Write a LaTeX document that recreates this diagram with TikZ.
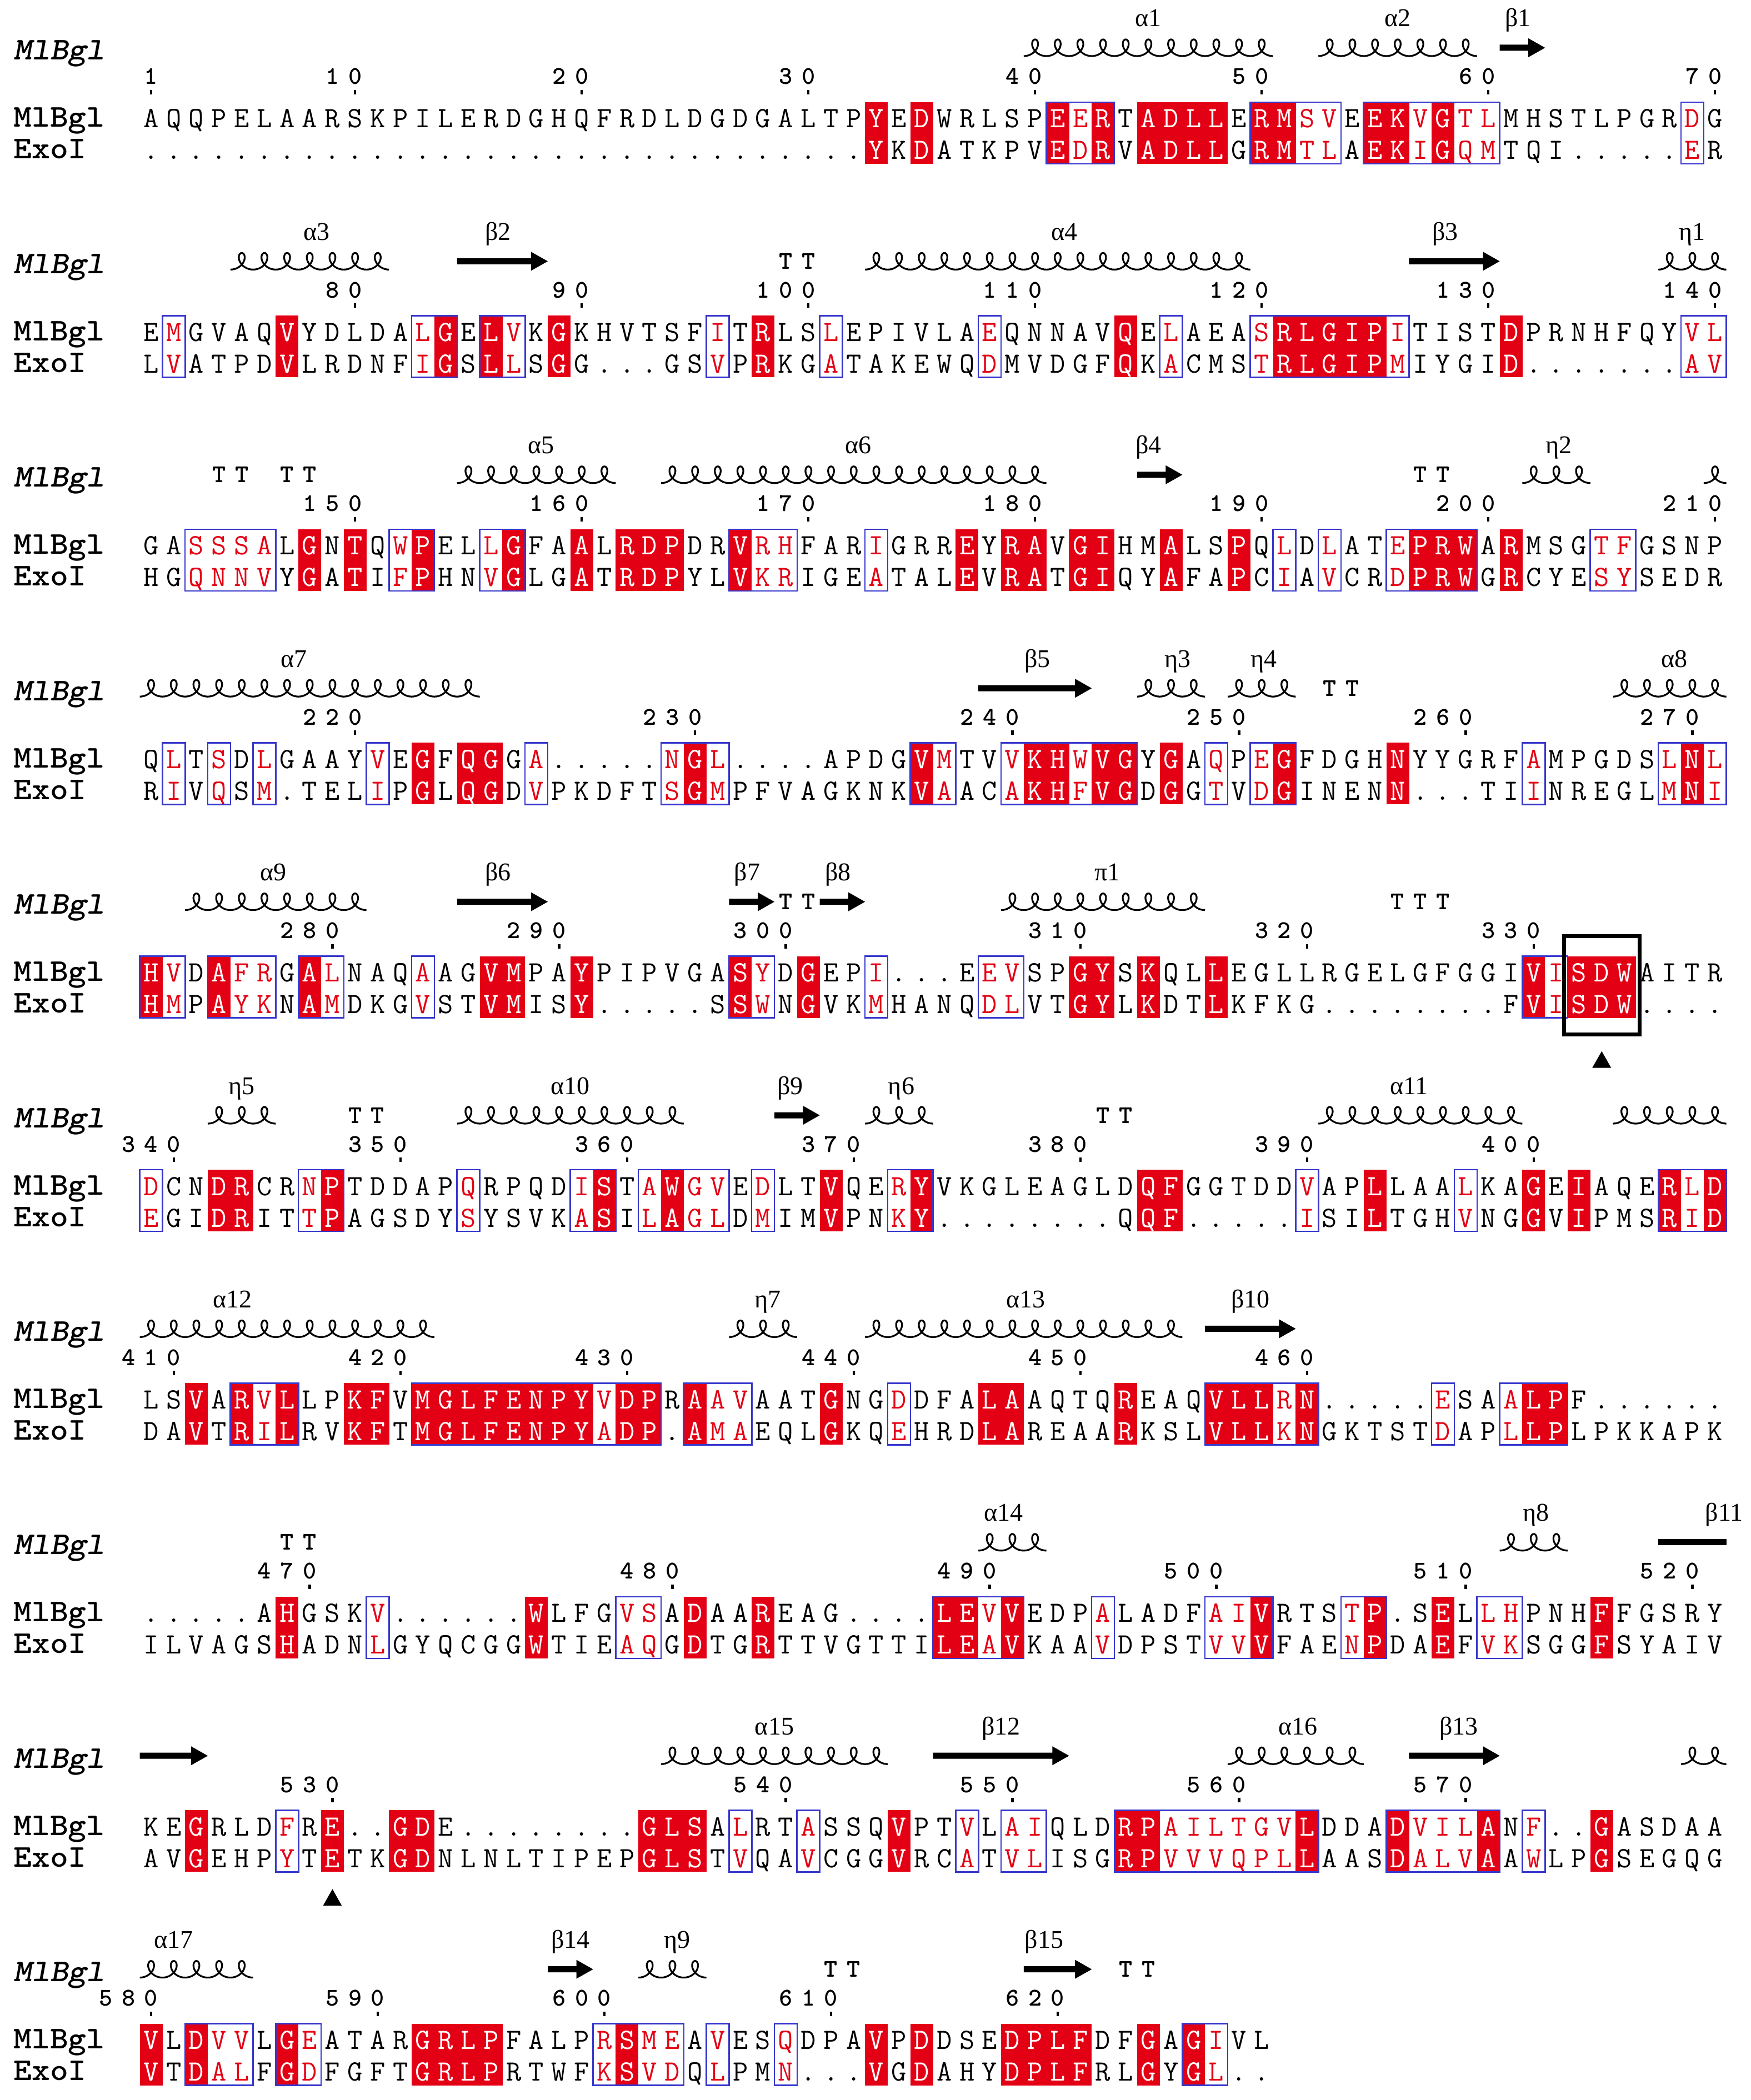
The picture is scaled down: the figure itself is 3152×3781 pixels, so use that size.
\documentclass[tikz,border=0pt]{standalone}
\usepackage{fontspec}
\usepackage{xstring}
\newfontfamily\grk{Liberation Serif}
\definecolor{idred}{RGB}{228,0,20}
\definecolor{simblue}{RGB}{55,55,205}
\newif\ifisred
\newif\ifisframed
\newif\ifprevframed
\newif\ifnextframed
\tikzset{
  seqchar/.style={anchor=base, inner sep=0pt, font=\fontsize{53}{55}\selectfont\ttfamily},
  numchar/.style={anchor=base, inner sep=0pt, font=\fontsize{46}{50}\selectfont\ttfamily\bfseries},
  rowlabel/.style={anchor=base west, inner sep=0pt, font=\fontsize{57}{60}\selectfont\ttfamily\bfseries},
  sslabel/.style={anchor=base, inner sep=0pt, font=\fontsize{46}{50}\selectfont\grk},
  helixline/.style={line width=3.2pt, line join=round},
  frameline/.style={simblue, line width=2.6pt, line cap=rect},
}
% column centre: 272 + (k-1)*40.8 ; block base: 214 + 384.4*n
\newcommand\seqblock[5]{%
  \pgfmathsetmacro\yb{214+384.4*#1}%
  \StrDel{#3}{|}[\sqa]%
  \StrDel{#4}{|}[\sqb]%
  \StrDel{#5}{|}[\sqm]%
  \edef\fullmask{.\sqm.}%
  \foreach \k in {1,...,#2}{%
    \pgfmathtruncatemacro\kk{\k+1}%
    \StrChar{\fullmask}{\kk}[\mk]%
    \pgfmathsetmacro\xc{272+(\k-1)*40.8}%
    \isredfalse
    \if R\mk\isredtrue\fi
    \if r\mk\isredtrue\fi
    \ifisred \fill[idred] (\xc-20.5,\yb-30) rectangle (\xc+20.5,\yb+81);\fi
  }%
  \foreach \k in {1,...,#2}{%
    \pgfmathtruncatemacro\kk{\k+1}%
    \pgfmathtruncatemacro\kn{\k+2}%
    \StrChar{\fullmask}{\kk}[\mk]%
    \StrChar{\fullmask}{\k}[\mkp]%
    \StrChar{\fullmask}{\kn}[\mkn]%
    \StrChar{\sqa}{\k}[\ca]%
    \StrChar{\sqb}{\k}[\cb]%
    \pgfmathsetmacro\xc{272+(\k-1)*40.8}%
    \isframedfalse \if r\mk\isframedtrue\fi \if B\mk\isframedtrue\fi
    \prevframedfalse \if r\mkp\prevframedtrue\fi \if B\mkp\prevframedtrue\fi
    \nextframedfalse \if r\mkn\nextframedtrue\fi \if B\mkn\nextframedtrue\fi
    \ifisframed
      \draw[frameline] (\xc-20.5,\yb-30) -- (\xc+20.5,\yb-30);
      \draw[frameline] (\xc-20.5,\yb+81) -- (\xc+20.5,\yb+81);
      \ifprevframed\else \draw[frameline] (\xc-20.5,\yb-30) -- (\xc-20.5,\yb+81);\fi
      \ifnextframed\else \draw[frameline] (\xc+20.5,\yb-30) -- (\xc+20.5,\yb+81);\fi
    \fi
    \def\tc{black}%
    \if R\mk\def\tc{white}\fi
    \if r\mk\def\tc{white}\fi
    \if B\mk\def\tc{idred}\fi
    \node[seqchar,text=\tc] at (\xc,\yb+16) {\ca};
    \node[seqchar,text=\tc] at (\xc,\yb+73) {\cb};
  }%
  \node[rowlabel] (lbA#1) at (24,\yb+15) {\scalebox{1.1}[1]{MlBgl}};
  \node[rowlabel] (lbB#1) at (24,\yb+72) {\scalebox{1.1}[1]{ExoI}};
  \node[rowlabel, font=\fontsize{57}{60}\selectfont\ttfamily\bfseries\slshape] (lbS#1) at (24,\yb-106) {\scalebox{1.1}[1]{MlBgl}};
}
\newcommand\numlab[3]{%
  \pgfmathsetmacro\yb{214+384.4*#1}%
  \StrLen{#3}[\nl]%
  \foreach \j in {1,...,\nl}{%
    \StrChar{#3}{\j}[\dg]%
    \pgfmathsetmacro\xc{272+(#2-\nl+\j-1)*40.8}%
    \node[numchar] at (\xc,\yb-62) {\dg};
  }%
  \pgfmathsetmacro\xt{272+(#2-1)*40.8}%
  \fill (\xt-2.2,\yb-52) rectangle (\xt+2.2,\yb-44);
}
\newcommand\sshelix[3]{%
  \pgfmathsetmacro\yh{214+384.4*#1-128}%
  \pgfmathsetmacro\xa{272+(#2-1)*40.8-20.4}%
  \pgfmathtruncatemacro\nloop{#3-#2+1}%
  \pgfmathsetmacro\tend{180+360*\nloop}%
  \pgfmathtruncatemacro\nsamp{32*\nloop+1}%
  \draw[helixline] plot[smooth, domain=180:\tend, samples=\nsamp] ({\xa+(\x-180)*0.113333-14*sin(\x)},{\yh-15*cos(\x)});
}
\newcommand\ssstrand[3]{%
  \pgfmathsetmacro\yh{214+384.4*#1-128}%
  \pgfmathsetmacro\xa{272+(#2-1)*40.8-20.4}%
  \pgfmathsetmacro\xb{272+(#3-1)*40.8+20.4}%
  \fill (\xa,\yh-5.5) -- (\xb-30,\yh-5.5) -- (\xb-30,\yh-17) -- (\xb,\yh) -- (\xb-30,\yh+17) -- (\xb-30,\yh+5.5) -- (\xa,\yh+5.5) -- cycle;
}
\newcommand\ssbar[3]{%
  \pgfmathsetmacro\yh{214+384.4*#1-128}%
  \pgfmathsetmacro\xa{272+(#2-1)*40.8-20.4}%
  \pgfmathsetmacro\xb{272+(#3-1)*40.8+20.4}%
  \fill (\xa,\yh-5.5) rectangle (\xb,\yh+5.5);
}
\newcommand\ssturn[3]{%
  \pgfmathsetmacro\yh{214+384.4*#1-128}%
  \StrLen{#3}[\nl]%
  \foreach \j in {1,...,\nl}{%
    \StrChar{#3}{\j}[\dg]%
    \pgfmathsetmacro\xc{272+(#2+\j-2)*40.8}%
    \node[numchar] at (\xc,\yh+14) {\dg};
  }%
}
\newcommand\sslab[3]{%
  \node[sslabel] at ({272+(#2-1)*40.8},{214+384.4*#1-166}) {#3};
}
\begin{document}
\begin{tikzpicture}[x=1pt,y=-1pt]
\fill[white] (0,0) rectangle (3152,3781);
\useasboundingbox (0,0) rectangle (3152,3781);

% ---------- block 1
\seqblock{0}{70}{AQQPELAARS|KPILERDGHQ|FRDLDGDGAL|TPYEDWRLSP|EERTADLLER|MSVEEKVGTL|MHSTLPGRDG}{..........|..........|..........|..YKDATKPV|EDRVADLLGR|MTLAEKIGQM|TQI.....ER}{..........|..........|..........|..R.R.....|rBr.RRRR.r|rBB.rrBrBB|........B.}
\numlab{0}{1}{1}\numlab{0}{10}{10}\numlab{0}{20}{20}\numlab{0}{30}{30}\numlab{0}{40}{40}\numlab{0}{50}{50}\numlab{0}{60}{60}\numlab{0}{70}{70}
\sshelix{0}{40}{50}\sslab{0}{45}{α1}
\sshelix{0}{53}{59}\sslab{0}{56}{α2}
\ssstrand{0}{61}{62}\sslab{0}{61.3}{β1}

% ---------- block 2
\seqblock{1}{70}{EMGVAQVYDL|DALGELVKGK|HVTSFITRLS|LEPIVLAEQN|NAVQELAEAS|RLGIPITIST|DPRNHFQYVL}{LVATPDVLRD|NFIGSLLSGG|...GSVPRKG|ATAKEWQDMV|DGFQKACMST|RLGIPMIYGI|D.......AV}{.B....R...|..Br.rB.R.|.....B.R..|B......B..|...R.B...B|rrrrrB....|R.......BB}
\numlab{1}{10}{80}\numlab{1}{20}{90}\numlab{1}{30}{100}\numlab{1}{40}{110}\numlab{1}{50}{120}\numlab{1}{60}{130}\numlab{1}{70}{140}
\sshelix{1}{5}{11}\sslab{1}{8.3}{α3}
\ssstrand{1}{15}{18}\sslab{1}{16.3}{β2}
\ssturn{1}{29}{TT}
\sshelix{1}{33}{49}\sslab{1}{41.3}{α4}
\ssstrand{1}{57}{60}\sslab{1}{58.1}{β3}
\sshelix{1}{68}{70}\sslab{1}{69}{η1}

% ---------- block 3
\seqblock{2}{70}{GASSSALGNT|QWPELLGFAA|LRDPDRVRHF|ARIGRREYRA|VGIHMALSPQ|LDLATEPRWA|RMSGTFGSNP}{HGQNNVYGAT|IFPHNVGLGA|TRDPYLVKRI|GEATALEVRA|TGIQYAFAPC|IAVCRDPRWG|RCYESYSEDR}{..BBBB.R.R|.Br..Br..R|.RRR..rBB.|..B...R.RR|.RR..R..R.|B.B..Brrr.|R...BB....}
\numlab{2}{10}{150}\numlab{2}{20}{160}\numlab{2}{30}{170}\numlab{2}{40}{180}\numlab{2}{50}{190}\numlab{2}{60}{200}\numlab{2}{70}{210}
\ssturn{2}{4}{TT}\ssturn{2}{7}{TT}
\sshelix{2}{15}{21}\sslab{2}{18.2}{α5}
\sshelix{2}{24}{40}\sslab{2}{32.2}{α6}
\ssstrand{2}{45}{46}\sslab{2}{45}{β4}
\ssturn{2}{57}{TT}
\sshelix{2}{62}{64}\sslab{2}{63.1}{η2}
\sshelix{2}{70}{70}

% ---------- block 4
\seqblock{3}{70}{QLTSDLGAAY|VEGFQGGA..|...NGL....|APDGVMTVVK|HWVGYGAQPE|GFDGHNYYGR|FAMPGDSLNL}{RIVQSM.TEL|IPGLQGDVPK|DFTSGMPFVA|GKNKVAACAK|HFVGDGGTVD|GINENN...T|IINREGLMNI}{.B.B.B....|B.R.RR.B..|...BrB....|....rB..Br|rBrr.R.B.B|r....R....|.B.....BrB}
\numlab{3}{10}{220}\numlab{3}{25}{230}\numlab{3}{39}{240}\numlab{3}{49}{250}\numlab{3}{59}{260}\numlab{3}{69}{270}
\sshelix{3}{1}{15}\sslab{3}{7.3}{α7}
\ssstrand{3}{38}{42}\sslab{3}{40.1}{β5}
\sshelix{3}{45}{47}\sslab{3}{46.3}{η3}
\sshelix{3}{49}{51}\sslab{3}{50.1}{η4}
\ssturn{3}{53}{TT}
\sshelix{3}{66}{70}\sslab{3}{68.2}{α8}

% ---------- block 5
\seqblock{4}{70}{HVDAFRGALN|AQAAGVMPAY|PIPVGASYDG|EPI...EEVS|PGYSKQLLEG|LLRGELGFGG|IVISDWAITR}{HMPAYKNAMD|KGVSTVMISY|.....SSWNG|VKMHANQDLV|TGYLKDTLKF|KG........|FVISDW....}{rB.rBB.rB.|..B..RR..R|......rB.R|..B....BB.|.RR.R..R..|..........|.rBRRR....}
\numlab{4}{9}{280}\numlab{4}{19}{290}\numlab{4}{29}{300}\numlab{4}{42}{310}\numlab{4}{52}{320}\numlab{4}{62}{330}
\sshelix{4}{3}{10}\sslab{4}{6.4}{α9}
\ssstrand{4}{15}{18}\sslab{4}{16.3}{β6}
\ssstrand{4}{27}{28}\sslab{4}{27.3}{β7}
\ssturn{4}{29}{TT}
\ssstrand{4}{31}{32}\sslab{4}{31.3}{β8}
\sshelix{4}{39}{47}\sslab{4}{43.2}{π1}
\ssturn{4}{56}{TTT}
\draw[line width=7pt] ({272+63*40.8-27},{214+384.4*4-66}) rectangle ({272+65*40.8+27},{214+384.4*4+111});
\fill ({272+64*40.8},{214+384.4*4+141}) -- ++(-17,30) -- ++(34,0) -- cycle;

% ---------- block 6
\seqblock{5}{70}{DCNDRCRNPT|DDAPQRPQDI|STAWGVEDLT|VQERYVKGLE|AGLDQFGGTD|DVAPLLAALK|AGEIAQERLD}{EGIDRITTPA|GSDYSYSVKA|SILAGLDMIM|VPNKY.....|...QQF....|.ISILTGHVN|GGVIPMSRID}{B..RR..Br.|....B....B|r.BrBB.B..|R..Br.....|....RR....|.B..R...B.|.R.R...rBr}
\numlab{5}{2}{340}\numlab{5}{12}{350}\numlab{5}{22}{360}\numlab{5}{32}{370}\numlab{5}{42}{380}\numlab{5}{52}{390}\numlab{5}{62}{400}
\sshelix{5}{4}{6}\sslab{5}{5}{η5}
\ssturn{5}{10}{TT}
\sshelix{5}{15}{24}\sslab{5}{19.5}{α10}
\ssstrand{5}{29}{30}\sslab{5}{29.2}{β9}
\sshelix{5}{33}{35}\sslab{5}{34.1}{η6}
\ssturn{5}{43}{TT}
\sshelix{5}{53}{61}\sslab{5}{56.5}{α11}
\sshelix{5}{66}{70}

% ---------- block 7
\seqblock{6}{70}{LSVARVLLPK|FVMGLFENPY|VDPRAAVAAT|GNGDDFALAA|QTQREAQVLL|RN.....ESA|ALPF......}{DAVTRILRVK|FTMGLFENPY|ADP.AMAEQL|GKQEHRDLAR|EAARKSLVLL|KNGKTSTDAP|LLPLPKKAPK}{..R.rBr..R|R.rrrrrrrr|Brr.rBB...|R..B...RR.|...R...rrr|Br.....B..|Brr.......}
\numlab{6}{2}{410}\numlab{6}{12}{420}\numlab{6}{22}{430}\numlab{6}{32}{440}\numlab{6}{42}{450}\numlab{6}{52}{460}
\sshelix{6}{1}{13}\sslab{6}{4.6}{α12}
\sshelix{6}{27}{29}\sslab{6}{28.2}{η7}
\sshelix{6}{33}{46}\sslab{6}{39.6}{α13}
\ssstrand{6}{48}{51}\sslab{6}{49.5}{β10}

% ---------- block 8
\seqblock{7}{70}{.....AHGSK|V......WLF|GVSADAAREA|G....LEVVE|DPALADFAIV|RTSTP.SELL|HPNHFFGSRY}{ILVAGSHADN|LGYQCGGWTI|EAQGDTGRTT|VGTTILEAVK|AAVDPSTVVV|FAENPDAEFV|KSGGFSYAIV}{......R...|B......R..|.BB.R..R..|.....rrBr.|..B....BBr|...Br..R.B|B...R.....}
\numlab{7}{8}{470}\numlab{7}{24}{480}\numlab{7}{38}{490}\numlab{7}{48}{500}\numlab{7}{59}{510}\numlab{7}{69}{520}
\ssturn{7}{7}{TT}
\sshelix{7}{38}{40}\sslab{7}{38.6}{α14}
\sshelix{7}{61}{63}\sslab{7}{62.1}{η8}
\ssbar{7}{68}{70}\sslab{7}{70.4}{β11}

% ---------- block 9
\seqblock{8}{70}{KEGRLDFRE.|.GDE......|..GLSALRTA|SSQVPTVLAI|QLDRPAILTG|VLDDADVILA|NF..GASDAA}{AVGEHPYTET|KGDNLNLTIP|EPGLSTVQAV|CGGVRCATVL|ISGRPVVVQP|LLAASDALVA|AWLPGSEGQG}{..R...B.R.|.RR.......|..RRR.B..B|...R..B.BB|...rrBBBBB|Br...rBBBr|.B..R.....}
\numlab{8}{9}{530}\numlab{8}{29}{540}\numlab{8}{39}{550}\numlab{8}{49}{560}\numlab{8}{59}{570}
\ssstrand{8}{1}{3}
\sshelix{8}{24}{33}\sslab{8}{28.5}{α15}
\ssstrand{8}{36}{41}\sslab{8}{38.5}{β12}
\sshelix{8}{49}{54}\sslab{8}{51.6}{α16}
\ssstrand{8}{57}{60}\sslab{8}{58.7}{β13}
\sshelix{8}{69}{70}
\fill ({272+8*40.8},{214+384.4*8+112}) -- ++(-17,30) -- ++(34,0) -- cycle;

% ---------- block 10
\seqblock{9}{50}{VLDVVLGEAT|ARGRLPFALP|RSMEAVESQD|PAVPDDSEDP|LFDFGAGIVL}{VTDALFGDFG|FTGRLPRTWF|KSVDQLPMN.|..VGDAHYDP|LFRLGYGL..}{R.rBB.rB..|..RRRR....|BrBB.B..B.|..R.R...RR|RR..R.rB..}
\numlab{9}{1}{580}\numlab{9}{11}{590}\numlab{9}{21}{600}\numlab{9}{31}{610}\numlab{9}{41}{620}
\sshelix{9}{1}{5}\sslab{9}{2}{α17}
\ssstrand{9}{19}{20}\sslab{9}{19.5}{β14}
\sshelix{9}{23}{25}\sslab{9}{24.2}{η9}
\ssturn{9}{31}{TT}
\ssstrand{9}{40}{42}\sslab{9}{40.4}{β15}
\ssturn{9}{44}{TT}
\end{tikzpicture}
\end{document}
